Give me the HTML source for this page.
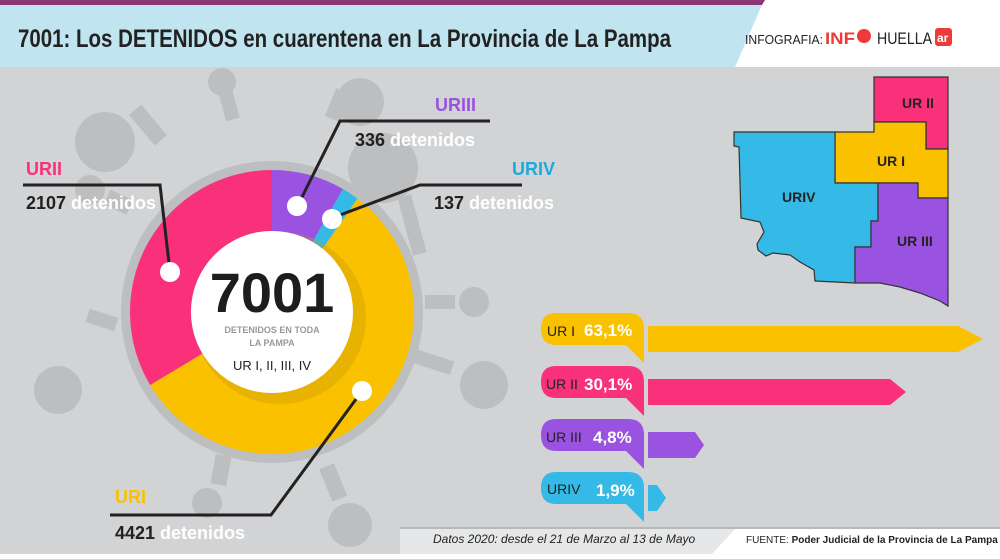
<!DOCTYPE html>
<html><head><meta charset="utf-8"><style>
body{margin:0;width:1000px;height:554px;overflow:hidden;font-family:"Liberation Sans",sans-serif;}
</style></head><body>
<svg width="1000" height="554" xmlns="http://www.w3.org/2000/svg" font-family="Liberation Sans, sans-serif">
<rect width="1000" height="554" fill="#d1d3d5"/>
<!-- header -->
<rect width="1000" height="67" fill="#fff"/>
<polygon points="0,0 765,0 762,5 0,5" fill="#8a3677"/>
<polygon points="0,5 762,5 735,67 0,67" fill="#c1e5f0"/>
<text x="18" y="47" font-size="25" font-weight="bold" fill="#222" textLength="653" lengthAdjust="spacingAndGlyphs">7001: Los DETENIDOS en cuarentena en La Provincia de La Pampa</text>
<text x="745" y="44" font-size="13" fill="#222" textLength="78" lengthAdjust="spacingAndGlyphs">INFOGRAFIA:</text>
<text x="825" y="44" font-size="17" font-weight="bold" fill="#ee3a3a" textLength="30" lengthAdjust="spacingAndGlyphs">INF</text>
<circle cx="864" cy="36" r="7" fill="#ee3a3a"/>
<text x="877" y="44" font-size="17" fill="#222" textLength="55" lengthAdjust="spacingAndGlyphs">HUELLA</text>
<rect x="935" y="28" width="17" height="18" rx="3" fill="#ee3a3a"/>
<text x="937" y="42" font-size="12" font-weight="bold" fill="#fff">ar</text>
<!-- virus blobs -->
<g fill="#bdbec0">
<circle cx="105" cy="142" r="30"/><circle cx="222" cy="82" r="14"/><circle cx="360" cy="102" r="24"/>
<circle cx="90" cy="190" r="15"/><circle cx="58" cy="390" r="24"/><circle cx="383" cy="168" r="35"/>
<circle cx="474" cy="302" r="15"/><circle cx="484" cy="385" r="24"/><circle cx="207" cy="503" r="15"/>
<circle cx="350" cy="525" r="22"/><circle cx="225" cy="245" r="8"/>
<rect x="222" y="90" width="14" height="30" transform="rotate(-15 229 105)"/>
<rect x="140" y="105" width="16" height="40" transform="rotate(-40 148 125)"/>
<rect x="330" y="90" width="16" height="30" transform="rotate(22 338 105)"/>
<rect x="110" y="190" width="16" height="25" transform="rotate(-65 118 202)"/>
<rect x="95" y="305" width="14" height="30" transform="rotate(-72 102 320)"/>
<rect x="425" y="295" width="30" height="14"/>
<rect x="413" y="355" width="40" height="14" transform="rotate(18 433 362)"/>
<rect x="405" y="195" width="14" height="60" transform="rotate(-15 412 225)"/>
<rect x="213" y="455" width="16" height="30" transform="rotate(10 221 470)"/>
<rect x="325" y="465" width="16" height="35" transform="rotate(-22 333 482)"/>
<circle cx="272" cy="312" r="151"/>
</g>
<!-- donut -->
<g transform="translate(272,312)">
<path d="M0,-142 A142,142 0 0,1 71,-123 L40.5,-70 A81,81 0 0,1 0,-81 Z" fill="#9a53e0"/>
<path d="M71,-123 A142,142 0 0,1 85.5,-113.4 L50.6,-63.2 A81,81 0 0,1 40.5,-70 Z" fill="#35b9e6"/>
<path d="M85.5,-113.4 A142,142 0 1,1 -121.8,73 L-69.6,41.6 A81,81 0 1,0 50.6,-63.2 Z" fill="#f9c100"/>
<path d="M-121.8,73 A142,142 0 0,1 0,-142 L0,-81 A81,81 0 0,0 -69.6,41.6 Z" fill="#f9317a"/>
<circle cx="8" cy="6" r="86" fill="#c99b00" opacity="0.35"/>
<circle r="81" fill="#fff"/>
<text x="0" y="0" font-size="56" font-weight="bold" fill="#1d1d1d" text-anchor="middle">7001</text>
<text x="0" y="21" font-size="9" font-weight="bold" fill="#999" text-anchor="middle">DETENIDOS EN TODA</text>
<text x="0" y="34" font-size="9" font-weight="bold" fill="#999" text-anchor="middle">LA PAMPA</text>
<text x="0" y="58" font-size="13" fill="#222" text-anchor="middle">UR I, II, III, IV</text>
</g>
<!-- callouts -->
<g stroke="#222" stroke-width="3" fill="none">
<polyline points="23,185 160,185 170,272"/>
<polyline points="297,207 340,121 490,121"/>
<polyline points="332,218 420,185 522,185"/>
<polyline points="110,515 271,515 362,391"/>
</g>
<g fill="#fff">
<circle cx="170" cy="272" r="10"/><circle cx="297" cy="206" r="10"/><circle cx="332" cy="219" r="10"/><circle cx="362" cy="391" r="10"/>
</g>
<g font-weight="bold" font-size="18">
<text x="26" y="175" fill="#f9317a">URII</text>
<text x="26" y="209" fill="#222">2107 <tspan fill="#fff">detenidos</tspan></text>
<text x="435" y="111" fill="#9a53e0">URIII</text>
<text x="355" y="146" fill="#222">336 <tspan fill="#fff">detenidos</tspan></text>
<text x="512" y="175" fill="#1ea9dc">URIV</text>
<text x="434" y="209" fill="#222">137 <tspan fill="#fff">detenidos</tspan></text>
<text x="115" y="503" fill="#f9c100">URI</text>
<text x="115" y="539" fill="#222">4421 <tspan fill="#fff">detenidos</tspan></text>
</g>
<!-- map -->
<g stroke="#333" stroke-width="1.2">
<polygon points="874,77 948,77 948,149 926,149 926,122 874,122" fill="#f9317a"/>
<polygon points="874,122 926,122 926,149 948,149 948,198 918,198 918,183 835,183 835,132 874,132" fill="#f9c100"/>
<polygon points="734,132 835,132 835,183 878,183 878,221 871,221 871,247 855,247 855,283 815,281 814,270 800,262 790,255 773,253 766,256 758,250 757,244 764,232 760,222 741,218 739,147 734,146" fill="#35b9e6"/>
<polygon points="878,183 918,183 918,198 948,198 948,306 940,301 920,293 900,287 880,283 855,283 855,247 871,247 871,221 878,221" fill="#9a53e0"/>
</g>
<g font-weight="bold" font-size="14" fill="#222">
<text x="902" y="108">UR II</text><text x="877" y="166">UR I</text><text x="782" y="202">URIV</text><text x="897" y="246">UR III</text>
</g>
<!-- bars -->
<g>
<path d="M556,313 H628 Q644,313 644,329 V363 L626,345 H556 Q541,345 541,329 Q541,313 556,313Z" fill="#f9c100"/>
<polygon points="648,326 958,326 983,339 958,352 648,352" fill="#f9c100"/>
<path d="M556,366 H628 Q644,366 644,382 V416 L626,398 H556 Q541,398 541,382 Q541,366 556,366Z" fill="#f9317a"/>
<polygon points="648,379 890,379 906,392 890,405 648,405" fill="#f9317a"/>
<path d="M556,419 H628 Q644,419 644,435 V469 L626,451 H556 Q541,451 541,435 Q541,419 556,419Z" fill="#9a53e0"/>
<polygon points="648,432 695,432 704,445 695,458 648,458" fill="#9a53e0"/>
<path d="M556,472 H628 Q644,472 644,488 V522 L626,504 H556 Q541,504 541,488 Q541,472 556,472Z" fill="#35b9e6"/>
<polygon points="648,485 657,485 666,498 657,511 648,511" fill="#35b9e6"/>
</g>
<g font-size="14" fill="#222">
<text x="547" y="336">UR I</text><text x="546" y="389">UR II</text><text x="546" y="442">UR III</text><text x="547" y="494">URIV</text>
</g>
<g font-size="17" font-weight="bold" fill="#fff">
<text x="584" y="336">63,1%</text><text x="584" y="390">30,1%</text><text x="593" y="443">4,8%</text><text x="596" y="496">1,9%</text>
</g>
<!-- footer -->
<rect x="400" y="527" width="600" height="27" fill="#e6e7e8"/>
<rect x="400" y="527" width="600" height="2" fill="#b8b9bb"/>
<polygon points="735,529 1000,529 1000,554 712,554" fill="#fff"/>
<text x="433" y="543" font-size="12" font-style="italic" fill="#222">Datos 2020: desde el 21 de Marzo al 13 de Mayo</text>
<text x="746" y="543" font-size="10" fill="#222">FUENTE: <tspan font-weight="bold">Poder Judicial de la Provincia de La Pampa</tspan></text>
</svg>
</body></html>
